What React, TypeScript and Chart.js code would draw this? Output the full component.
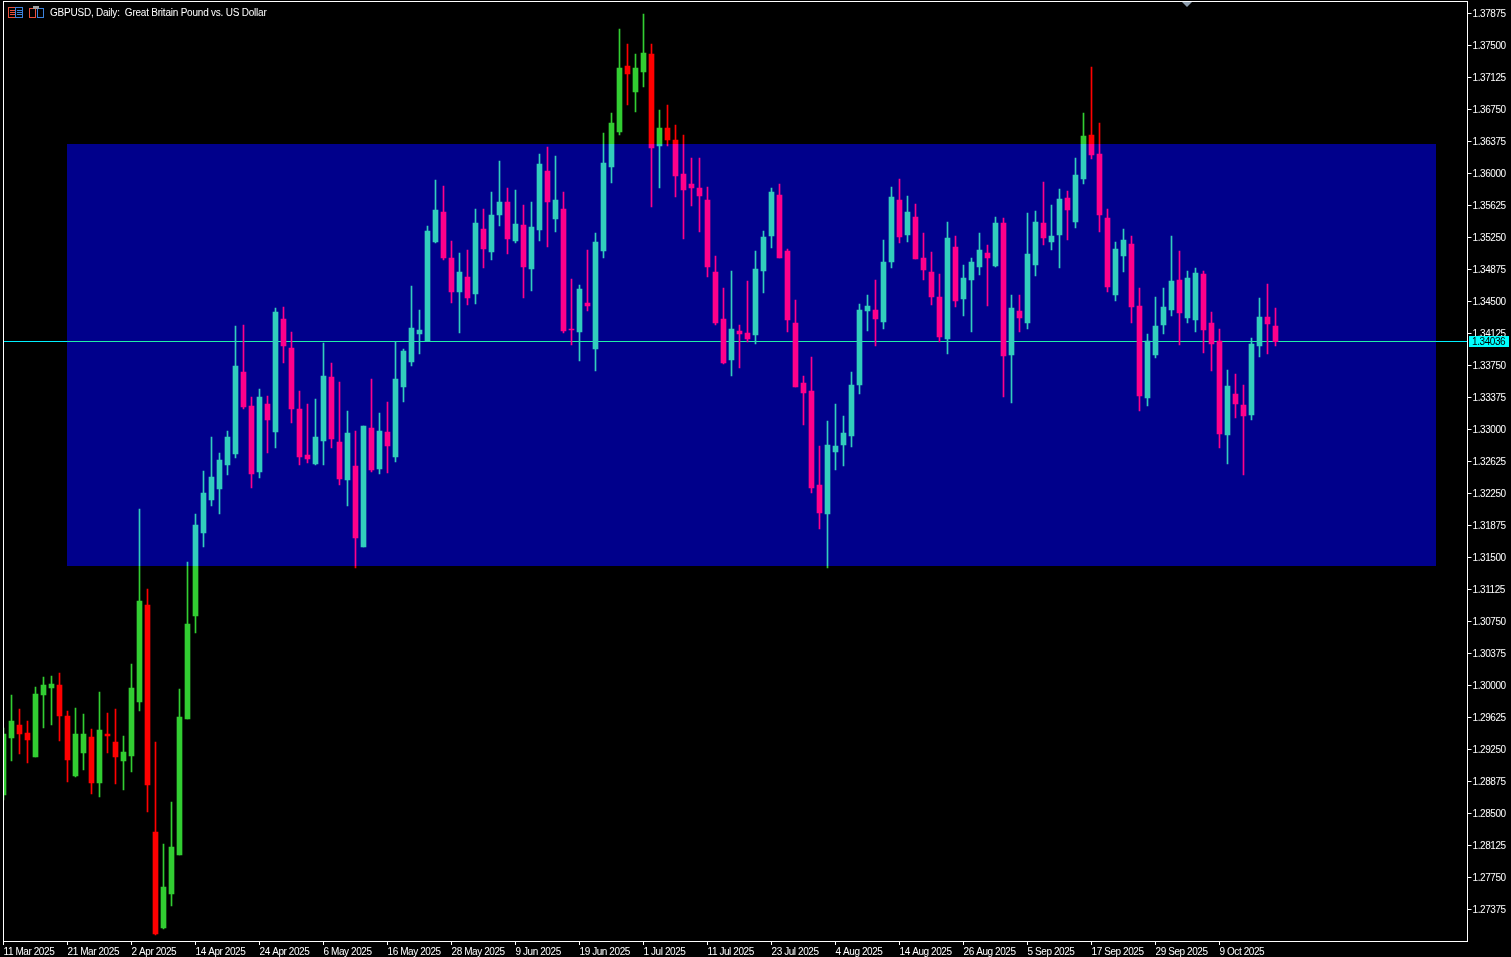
import React, { useEffect, useRef } from "react";
import { Chart, registerables } from "chart.js";

Chart.register(...registerables);

const tickDates = ["11 Mar 2025","21 Mar 2025","2 Apr 2025","14 Apr 2025","24 Apr 2025","6 May 2025","16 May 2025","28 May 2025","9 Jun 2025","19 Jun 2025","1 Jul 2025","11 Jul 2025","23 Jul 2025","4 Aug 2025","14 Aug 2025","26 Aug 2025","5 Sep 2025","17 Sep 2025","29 Sep 2025","9 Oct 2025"];

const priceTicks = [1.37875,1.375,1.37125,1.3675,1.36375,1.36,1.35625,1.3525,1.34875,1.345,1.34125,1.3375,1.33375,1.33,1.32625,1.3225,1.31875,1.315,1.31125,1.3075,1.30375,1.3,1.29625,1.2925,1.28875,1.285,1.28125,1.2775,1.27375];

const highs = [1.29508,1.29895,1.2973,1.2959,1.29988,1.30105,1.30117,1.30152,1.29707,1.29742,1.29672,1.29496,1.2993,1.29684,1.2973,1.29414,1.30258,1.32074,1.31137,1.29344,1.28148,1.28641,1.29965,1.31453,1.32016,1.3252,1.32918,1.3273,1.32988,1.34219,1.3423,1.33387,1.3348,1.33398,1.3443,1.34441,1.34148,1.33457,1.33305,1.33363,1.3402,1.33785,1.33562,1.33223,1.32988,1.33047,1.33598,1.33199,1.33328,1.34031,1.33949,1.34687,1.34406,1.35391,1.3593,1.35859,1.35215,1.35074,1.35109,1.3559,1.3559,1.35789,1.36152,1.35836,1.35812,1.35637,1.35672,1.36234,1.36316,1.36211,1.35789,1.3477,1.34699,1.35109,1.35309,1.3648,1.36715,1.37699,1.37523,1.37406,1.37875,1.37523,1.3675,1.36809,1.36574,1.36457,1.36187,1.36187,1.35848,1.35039,1.34664,1.34863,1.3423,1.34746,1.35098,1.35332,1.35836,1.35883,1.35121,1.34523,1.33633,1.33855,1.32812,1.33105,1.33305,1.33164,1.3368,1.34477,1.34582,1.34758,1.35227,1.35848,1.35941,1.35742,1.35648,1.35309,1.35086,1.34828,1.35437,1.35273,1.34934,1.35016,1.35309,1.35168,1.35496,1.35484,1.34582,1.34582,1.35543,1.35566,1.35906,1.35637,1.35824,1.35801,1.36187,1.36715,1.37254,1.36598,1.3559,1.35203,1.35355,1.35273,1.34664,1.34125,1.34559,1.34664,1.35273,1.35098,1.34863,1.34898,1.34863,1.34383,1.34184,1.33703,1.33656,1.33527,1.34078,1.34547,1.34711,1.3443];

const lows = [1.28664,1.29121,1.29203,1.29098,1.29168,1.29508,1.29543,1.29355,1.28875,1.28934,1.29016,1.28734,1.28699,1.29215,1.28852,1.28781,1.28992,1.29707,1.28523,1.27082,1.27152,1.27422,1.2802,1.29613,1.30621,1.31629,1.32109,1.32016,1.32473,1.32672,1.33246,1.3232,1.32437,1.3273,1.32789,1.33785,1.33082,1.3259,1.32613,1.3259,1.3259,1.32789,1.32355,1.32109,1.31383,1.31629,1.32508,1.32484,1.32496,1.32625,1.33328,1.3375,1.33891,1.34043,1.35191,1.34992,1.34488,1.34137,1.34465,1.34477,1.34898,1.34992,1.35391,1.35062,1.35191,1.34547,1.34629,1.35215,1.35145,1.3532,1.34137,1.33996,1.33809,1.34395,1.33691,1.35016,1.35895,1.36457,1.36809,1.36727,1.3702,1.35613,1.35836,1.36328,1.3573,1.35238,1.35625,1.3532,1.34793,1.3423,1.33773,1.33633,1.33727,1.34031,1.34008,1.34605,1.35133,1.35016,1.34148,1.33504,1.33059,1.32262,1.3184,1.31383,1.32531,1.32578,1.32801,1.33422,1.3416,1.33984,1.34184,1.34898,1.35191,1.35203,1.35004,1.34758,1.34465,1.34031,1.33891,1.34441,1.34336,1.34148,1.34816,1.34453,1.3491,1.33387,1.33316,1.34148,1.34184,1.34805,1.35168,1.35109,1.34898,1.35227,1.35367,1.35883,1.36176,1.3532,1.34617,1.34512,1.34852,1.34254,1.33223,1.33281,1.33844,1.34125,1.34336,1.33996,1.34254,1.34148,1.33902,1.33691,1.32789,1.32602,1.33141,1.32473,1.33117,1.33855,1.33891,1.33984];

const opens = [1.28723,1.29391,1.29543,1.29449,1.29168,1.29895,1.29977,1.30012,1.29648,1.28945,1.29215,1.29402,1.28863,1.29437,1.29344,1.29121,1.2918,1.29812,1.30949,1.28289,1.27164,1.27562,1.2802,1.29613,1.3082,1.31793,1.3218,1.32309,1.3259,1.32719,1.33680,1.33281,1.32508,1.33305,1.32977,1.34301,1.33961,1.33246,1.32707,1.32602,1.32871,1.33621,1.32859,1.32414,1.32578,1.31629,1.33023,1.32543,1.32977,1.32684,1.33504,1.33797,1.34125,1.34043,1.35203,1.35555,1.35016,1.34617,1.34793,1.34594,1.35355,1.35086,1.3552,1.35672,1.35215,1.35402,1.34887,1.35344,1.36035,1.35473,1.3559,1.34184,1.34148,1.34488,1.33949,1.35098,1.36082,1.36492,1.37266,1.36961,1.37195,1.37406,1.36328,1.36539,1.36398,1.36,1.35883,1.35836,1.35695,1.34852,1.34301,1.3382,1.34160,1.34137,1.34113,1.34863,1.35273,1.35754,1.35098,1.34254,1.33551,1.33457,1.32355,1.32016,1.32742,1.32824,1.3293,1.33527,1.34395,1.34406,1.34266,1.34969,1.35695,1.35285,1.35496,1.35016,1.34852,1.34559,1.34066,1.35145,1.34535,1.34758,1.34910,1.35074,1.34922,1.35426,1.33879,1.34395,1.34254,1.34934,1.35426,1.35203,1.35285,1.35719,1.35437,1.35941,1.36457,1.36234,1.35484,1.34582,1.35039,1.35180,1.34453,1.33375,1.33879,1.3423,1.34406,1.34758,1.34312,1.34289,1.34828,1.34254,1.34043,1.32941,1.33422,1.33293,1.33176,1.33984,1.34324,1.34219];

const closes = [1.29437,1.2959,1.29437,1.29367,1.29906,1.30012,1.30023,1.29648,1.29133,1.29437,1.29437,1.28863,1.29484,1.29414,1.29168,1.29227,1.29977,1.30996,1.2884,1.27094,1.27645,1.28113,1.29637,1.30727,1.31887,1.32262,1.32449,1.32648,1.32918,1.3375,1.33270,1.32484,1.33387,1.33117,1.34383,1.33984,1.33246,1.32684,1.32660,1.32918,1.33633,1.32895,1.32426,1.32965,1.31734,1.33047,1.32531,1.32988,1.32812,1.33598,1.33926,1.34195,1.34172,1.35332,1.35578,1.35016,1.34617,1.34852,1.34547,1.35426,1.35121,1.3552,1.35672,1.35238,1.35414,1.3491,1.35379,1.36117,1.35672,1.35695,1.3416,1.34172,1.34652,1.34453,1.35203,1.36129,1.36598,1.37242,1.37172,1.37242,1.37418,1.36305,1.36539,1.36398,1.35977,1.35812,1.35836,1.35742,1.3491,1.34254,1.33785,1.34184,1.34125,1.34066,1.34887,1.35262,1.35789,1.35016,1.34289,1.33504,1.33434,1.32320,1.32027,1.32824,1.32812,1.32965,1.33527,1.34406,1.34453,1.34301,1.34969,1.3573,1.35262,1.35555,1.35004,1.34875,1.34559,1.3409,1.3525,1.34512,1.34781,1.34969,1.35109,1.35016,1.35426,1.33867,1.3443,1.34312,1.35062,1.35437,1.3525,1.35273,1.35707,1.35578,1.35988,1.36445,1.36223,1.3552,1.34676,1.35121,1.35227,1.34441,1.33398,1.34043,1.34219,1.34441,1.34746,1.34371,1.34781,1.34840,1.34172,1.34008,1.32953,1.33516,1.33305,1.33164,1.34008,1.34324,1.34242,1.34036];

const zoneTop = 1.36351;
const zoneBottom = 1.31406;
const zoneStartBar = 8;
const zoneEndBar = 179;
const lastPrice = 1.34036;
const barSlots = 184;
const title = "GBPUSD, Daily:  Great Britain Pound vs. US Dollar";

const UP = "#32CD32";
const DOWN = "#FF0000";
const FAMILY = "'Liberation Sans'";
const FONT = `10px ${FAMILY}`;

const overlay = {
  id: "overlay",
  beforeDraw(chart: any) {
    chart.ctx.letterSpacing = "-0.42px";
  },
  beforeDatasetsDraw(chart: any) {
    const { ctx, scales } = chart;
    const x = scales.x, y = scales.y;
    const py = Math.floor(y.getPixelForValue(lastPrice));
    const x0 = x.getPixelForValue(zoneStartBar) - 0.5;
    const x1 = x.getPixelForValue(zoneEndBar) + 0.5;
    ctx.save();
    // last price line, under the candles; its zone part is finished by the additive blue
    ctx.fillStyle = "#00F0FF";
    ctx.fillRect(4, py, 1463, 1);
    ctx.fillStyle = "#20F01D";
    ctx.fillRect(x0, py, x1 - x0, 1);
    ctx.restore();
  },
  afterDatasetsDraw(chart: any) {
    const { ctx, scales } = chart;
    const x = scales.x, y = scales.y;
    ctx.save();
    // the zone adds its blue to whatever is under it, as the terminal does
    ctx.globalCompositeOperation = "lighter";
    ctx.fillStyle = "#00008B";
    const x0 = x.getPixelForValue(zoneStartBar) - 0.5;
    const x1 = x.getPixelForValue(zoneEndBar) + 0.5;
    const y0 = Math.round(y.getPixelForValue(zoneTop));
    const y1 = Math.round(y.getPixelForValue(zoneBottom));
    ctx.fillRect(x0, y0, x1 - x0, y1 - y0);
    ctx.restore();
  },
  afterDraw(chart: any) {
    const { ctx, scales } = chart;
    const y = scales.y;
    ctx.save();
    const py = Math.floor(y.getPixelForValue(lastPrice));
    // frame
    ctx.fillStyle = "#FFFFFF";
    ctx.fillRect(3, 1, 1465, 1);
    ctx.fillRect(3, 941, 1465, 1);
    ctx.fillRect(3, 1, 1, 941);
    ctx.fillRect(1467, 1, 1, 941);
    // price tag
    ctx.fillStyle = "#00FFFF";
    ctx.fillRect(1469, py - 5, 40, 11);
    ctx.fillStyle = "#000000";
    ctx.font = FONT;
    ctx.textBaseline = "middle";
    ctx.textAlign = "left";
    ctx.fillText(lastPrice.toFixed(5), 1472, py + 1);
    // title and icons
    ctx.fillStyle = "#FFFFFF";
    ctx.letterSpacing = "-0.22px";
    ctx.fillText(title, 50, 13);
    ctx.strokeStyle = "#E8503C";
    ctx.lineWidth = 1;
    ctx.strokeRect(8.5, 7.5, 7, 10);
    ctx.strokeStyle = "#3C82DC";
    ctx.strokeRect(15.5, 7.5, 7, 10);
    ctx.fillStyle = "#E8503C";
    ctx.fillRect(10, 10, 5, 1); ctx.fillRect(10, 12, 5, 1); ctx.fillRect(10, 14, 5, 1);
    ctx.fillStyle = "#3C82DC";
    ctx.fillRect(17, 10, 5, 1); ctx.fillRect(17, 12, 5, 1); ctx.fillRect(17, 14, 5, 1);
    ctx.strokeStyle = "#E8503C";
    ctx.strokeRect(29.5, 8.5, 6, 9);
    ctx.strokeStyle = "#3C82DC";
    ctx.strokeRect(37.5, 8.5, 6, 9);
    ctx.fillStyle = "#A0A0A0";
    ctx.fillRect(33, 6, 6, 3);
    // shift marker
    ctx.fillStyle = "#8C9CAC";
    ctx.beginPath();
    ctx.moveTo(1182, 2);
    ctx.lineTo(1192, 2);
    ctx.lineTo(1187, 7);
    ctx.closePath();
    ctx.fill();
    ctx.restore();
  },
};

export default function App() {
  const ref = useRef<HTMLCanvasElement>(null);
  useEffect(() => {
    document.body.style.margin = "0";
    document.body.style.background = "#000";
    const labels: string[] = [];
    for (let i = 0; i < barSlots; i++) labels.push(i % 8 === 0 ? tickDates[i / 8] ?? "" : "");
    const colors = opens.map((o, i) => (closes[i] >= o ? UP : DOWN));
    const chart = new Chart(ref.current as HTMLCanvasElement, {
      type: "bar",
      data: {
        labels,
        datasets: [
          {
            label: "wick",
            data: highs.map((h, i) => [lows[i], h]),
            backgroundColor: colors,
            barThickness: 1,
            grouped: false,
            order: 2,
          },
          {
            label: "body",
            data: opens.map((o, i) => [o, closes[i]]),
            backgroundColor: colors,
            barThickness: 5,
            minBarLength: 1,
            grouped: false,
            order: 1,
          },
        ] as any,
      },
      options: {
        animation: false,
        responsive: false,
        layout: { padding: { left: 3.5, top: 1, right: 0, bottom: 0 } },
        plugins: { legend: { display: false }, tooltip: { enabled: false }, title: { display: false } },
        scales: {
          x: {
            type: "category",
            offset: false,
            afterBuildTicks: (s: any) => {
              s.ticks = s.ticks.filter((t: any) => t.value % 8 === 0 && t.value / 8 < tickDates.length);
            },
            afterFit: (s: any) => { s.height = 16; s.paddingLeft = 0; s.paddingRight = 0; },
            border: { display: false },
            grid: { display: true, drawOnChartArea: false, drawTicks: true, tickLength: 4, tickColor: "#FFFFFF", color: "#FFFFFF", offset: false },
            ticks: {
              autoSkip: false,
              maxRotation: 0,
              minRotation: 0,
              align: "start",
              padding: 1,
              color: "#FFFFFF",
              font: { family: FAMILY, size: 10 },
            },
          },
          y: {
            type: "linear",
            position: "right",
            min: 1.270117,
            max: 1.380273,
            afterBuildTicks: (s: any) => { s.ticks = priceTicks.map((value) => ({ value })); },
            afterFit: (s: any) => { s.width = 43.5; s.paddingTop = 0; s.paddingBottom = 0; },
            border: { display: false },
            grid: { display: true, drawOnChartArea: false, drawTicks: true, tickLength: 4, tickColor: "#FFFFFF", color: "#FFFFFF" },
            ticks: {
              padding: 1,
              color: "#FFFFFF",
              font: { family: FAMILY, size: 10 },
              callback: (v: any) => Number(v).toFixed(5),
            },
          },
        },
      } as any,
      plugins: [overlay],
    });
    return () => chart.destroy();
  }, []);
  return (
    <div style={{ position: "fixed", left: 0, top: 0, width: 1511, height: 957, background: "#000" }}>
      <canvas ref={ref} width={1511} height={957} style={{ display: "block" }} />
    </div>
  );
}
